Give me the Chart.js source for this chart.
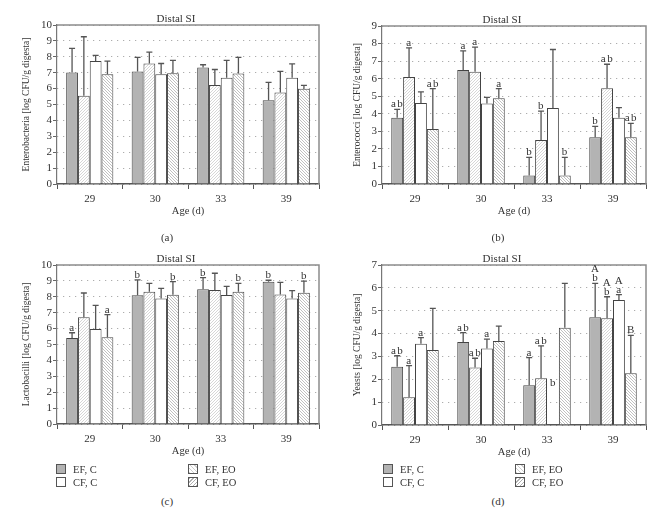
<!DOCTYPE html>
<html>
<head>
<meta charset="utf-8">
<script src="https://cdn.jsdelivr.net/npm/chart.js@4.4.1/dist/chart.umd.min.js"></script>
<style>
body { margin: 0; background: #fff; }
#wrap { position: relative; width: 666px; height: 518px; font-family: "Liberation Serif", serif; color: #333; }
#wrap canvas { position: absolute; }
.cap { position: absolute; font-size: 11px; color: #333; transform: translate(-50%, -50%); }
.leg { position: absolute; font-size: 10.5px; line-height: 13px; white-space: nowrap; }
.sw { display: inline-block; width: 8px; height: 8px; border: 1px solid #555; vertical-align: -1px; margin-right: 7px; }
.s0 { background: #b3b3b3; }
.s1 { background: repeating-linear-gradient(45deg, #cdcdcd 0 1px, #fff 1px 3px); }
.s2 { background: #fff; }
.s3 { background: repeating-linear-gradient(-45deg, #b0b0b0 0 1px, #fff 1px 2.5px); }
</style>
</head>
<body>
<div id="wrap">
  <canvas id="pa" width="333" height="240" style="left:0;top:0"></canvas>
  <canvas id="pb" width="333" height="240" style="left:333px;top:0"></canvas>
  <canvas id="pc" width="333" height="240" style="left:0;top:240px"></canvas>
  <canvas id="pd" width="333" height="240" style="left:333px;top:240px"></canvas>
  <div class="cap" style="left:167px;top:237px">(a)</div>
  <div class="cap" style="left:498px;top:237px">(b)</div>
  <div class="cap" style="left:167px;top:501px">(c)</div>
  <div class="cap" style="left:498px;top:501px">(d)</div>
  <div class="leg" style="left:56px;top:463px"><span class="sw s0"></span>EF, C<br><span class="sw s2"></span>CF, C</div>
  <div class="leg" style="left:188px;top:463px"><span class="sw s1"></span>EF, EO<br><span class="sw s3"></span>CF, EO</div>
  <div class="leg" style="left:383px;top:463px"><span class="sw s0"></span>EF, C<br><span class="sw s2"></span>CF, C</div>
  <div class="leg" style="left:515px;top:463px"><span class="sw s1"></span>EF, EO<br><span class="sw s3"></span>CF, EO</div>
</div>
<script>
const ages = ['29', '30', '33', '39'];
const groups = ['EF, C', 'EF, EO', 'CF, C', 'CF, EO'];

// (a) Enterobacteria: means and top of error bar, one row per group
const enteroMean = [[7.02, 7.08, 7.33, 5.27], [5.55, 7.58, 6.22, 5.76], [7.73, 6.91, 6.68, 6.68], [6.91, 6.97, 6.95, 5.99]];
const enteroErr = [[8.53, 7.96, 7.50, 6.39], [9.26, 8.30, 7.20, 7.08], [8.09, 7.58, 7.77, 7.56], [7.73, 7.77, 7.96, 6.20]];
const enteroLetters = [['', '', '', ''], ['', '', '', ''], ['', '', '', ''], ['', '', '', '']];

// (b) Enterococci
const coccMean = [[3.77, 6.50, 0.49, 2.67], [6.10, 6.40, 2.50, 5.45], [4.62, 4.58, 4.33, 3.77], [3.13, 4.88, 0.49, 2.67]];
const coccErr = [[4.25, 7.58, 1.52, 3.28], [7.75, 7.80, 4.15, 6.82], [5.25, 4.94, 7.66, 4.35], [5.43, 5.43, 1.52, 3.45]];
const coccLetters = [['ab', 'a', 'b', 'b'], ['a', 'a', 'b', 'ab'], ['', '', '', ''], ['ab', 'a', 'b', 'ab']];

// (c) Lactobacilli
const lactoMean = [[5.41, 8.09, 8.47, 8.95], [6.72, 8.32, 8.43, 8.15], [5.97, 7.90, 8.11, 7.90], [5.45, 8.13, 8.32, 8.26]];
const lactoErr = [[5.74, 9.06, 9.20, 9.04], [8.24, 8.85, 9.48, 8.91], [7.46, 8.53, 8.66, 8.39], [6.88, 8.95, 8.85, 8.98]];
const lactoLetters = [['a', 'b', 'b', 'b'], ['', '', '', ''], ['', '', '', ''], ['a', 'b', 'b', 'b']];

// (d) Yeasts
const yeastMean = [[2.55, 3.63, 1.74, 4.71], [1.21, 2.52, 2.04, 4.67], [3.56, 3.35, null, 5.47], [3.28, 3.67, 4.26, 2.26]];
const yeastErr = [[3.03, 4.04, 2.95, 6.20], [2.60, 2.92, 3.46, 5.61], [3.82, 3.76, null, 5.70], [5.10, 4.33, 6.20, 3.92]];
const yeastLetters = [['ab', 'ab', 'a', 'A\nb'], ['a', 'ab', 'ab', 'A\nb'], ['a', 'a', {t: 'b', at: 1.6}, 'A\na'], ['', '', '', 'B']];

const serif = '"Liberation Serif", serif';
const txt = '#333';

function hatch(color, dir, step) {
  const c = document.createElement('canvas');
  c.width = c.height = step;
  const g = c.getContext('2d');
  g.fillStyle = '#fff';
  g.fillRect(0, 0, step, step);
  g.strokeStyle = color;
  g.lineWidth = 0.8;
  g.beginPath();
  if (dir > 0) {
    g.moveTo(-1, step + 1); g.lineTo(step + 1, -1);
    g.moveTo(-1, 1); g.lineTo(1, -1);
    g.moveTo(step - 1, step + 1); g.lineTo(step + 1, step - 1);
  } else {
    g.moveTo(-1, -1); g.lineTo(step + 1, step + 1);
    g.moveTo(step - 1, -1); g.lineTo(step + 1, 1);
    g.moveTo(-1, step - 1); g.lineTo(1, step + 1);
  }
  g.stroke();
  return g.createPattern(c, 'repeat');
}

const fills = ['#b3b3b3', hatch('#cccccc', 1, 3), '#ffffff', hatch('#b0b0b0', -1, 3)];

// grey frame on top and right of the plot
const frame = {
  id: 'frame',
  beforeDatasetsDraw(chart) {
    const a = chart.chartArea, ctx = chart.ctx;
    ctx.save();
    ctx.strokeStyle = '#8c8c8c';
    ctx.lineWidth = 1.5;
    ctx.beginPath();
    ctx.moveTo(a.left, a.top);
    ctx.lineTo(a.right, a.top);
    ctx.lineTo(a.right, a.bottom);
    ctx.stroke();
    ctx.restore();
  }
};

const panelTitle = {
  id: 'panelTitle',
  afterDraw(chart) {
    const a = chart.chartArea, ctx = chart.ctx;
    ctx.save();
    ctx.fillStyle = txt;
    ctx.font = '11px ' + serif;
    ctx.textAlign = 'center';
    ctx.textBaseline = 'middle';
    ctx.fillText('Distal SI', (a.left + a.right) / 2 - 12, a.top - 6);
    ctx.restore();
  }
};

// one-sided error bars and letters
const errBars = {
  id: 'errBars',
  afterDatasetsDraw(chart) {
    const ctx = chart.ctx, ys = chart.scales.y;
    chart.data.datasets.forEach((ds, i) => {
      const meta = chart.getDatasetMeta(i);
      meta.data.forEach((bar, j) => {
        const top = ds.errTop[j];
        let anchor = bar.y;
        ctx.save();
        if (top != null && ds.data[j] != null) {
          const py = ys.getPixelForValue(top);
          ctx.strokeStyle = '#555';
          ctx.lineWidth = 1.3;
          ctx.beginPath();
          ctx.moveTo(bar.x, bar.y);
          ctx.lineTo(bar.x, py);
          ctx.moveTo(bar.x - 3, py);
          ctx.lineTo(bar.x + 3, py);
          ctx.stroke();
          anchor = py;
        }
        let lab = ds.letters[j];
        if (lab && typeof lab === 'object') {
          anchor = ys.getPixelForValue(lab.at);
          lab = lab.t;
        }
        if (lab) {
          ctx.fillStyle = txt;
          ctx.font = '11px ' + serif;
          ctx.textAlign = 'center';
          ctx.textBaseline = 'alphabetic';
          ctx.letterSpacing = '1.5px';
          const lines = lab.split('\n').reverse();
          lines.forEach((l, k) => ctx.fillText(l, bar.x + 0.5, anchor - 2 - k * 9));
        }
        ctx.restore();
      });
    });
  }
};

function makePanel(id, o) {
  new Chart(document.getElementById(id), {
    type: 'bar',
    data: {
      labels: ages,
      datasets: o.means.map((m, i) => ({
        label: groups[i],
        data: m,
        errTop: o.errs[i],
        letters: o.letters[i],
        backgroundColor: fills[i],
        borderColor: '#444',
        borderWidth: 1,
        categoryPercentage: 0.72,
        barPercentage: 1
      }))
    },
    options: {
      responsive: false,
      animation: false,
      layout: { padding: { top: o.top, right: o.right, bottom: o.bottom, left: 0 } },
      plugins: { legend: { display: false }, tooltip: { enabled: false } },
      scales: {
        x: {
          grid: { offset: true, drawOnChartArea: false, tickLength: 5, color: '#555' },
          border: { color: '#555', width: 1.5 },
          ticks: { color: txt, font: { family: serif, size: 11 }, padding: 4 },
          title: { display: true, text: 'Age (d)', color: txt, font: { family: serif, size: 10.5 }, padding: { top: 0, bottom: 0 } },
          afterFit: s => { s.height = 34; }
        },
        y: {
          min: 0,
          max: o.max,
          ticks: { stepSize: 1, autoSkip: false, color: txt, font: { family: serif, size: 11 }, padding: 1 },
          grid: { color: '#9a9a9a', tickColor: '#666', tickLength: 4, tickBorderDash: [] },
          border: { color: '#777', width: 1.2, dash: [1, 5] },
          title: { display: true, text: o.ytitle, color: txt, font: { family: serif, size: 9.5 }, padding: { top: o.ytpad, bottom: 0 } },
          afterFit: s => { s.width = o.left; }
        }
      }
    },
    plugins: [frame, errBars, panelTitle]
  });
}

makePanel('pa', { means: enteroMean, errs: enteroErr, letters: enteroLetters, max: 10, left: 57, right: 14, top: 25, bottom: 22, ytpad: 21,
  ytitle: 'Enterobacteria [log CFU/g digesta]' });
makePanel('pb', { means: coccMean, errs: coccErr, letters: coccLetters, max: 9, left: 49, right: 20, top: 26, bottom: 22, ytpad: 19,
  ytitle: 'Enterococci [log CFU/g digesta]' });
makePanel('pc', { means: lactoMean, errs: lactoErr, letters: lactoLetters, max: 10, left: 57, right: 14, top: 25, bottom: 22, ytpad: 21,
  ytitle: 'Lactobacilli [log CFU/g digesta]' });
makePanel('pd', { means: yeastMean, errs: yeastErr, letters: yeastLetters, max: 7, left: 49, right: 20, top: 25, bottom: 21, ytpad: 19,
  ytitle: 'Yeasts [log CFU/g digesta]' });
</script>
</body>
</html>
